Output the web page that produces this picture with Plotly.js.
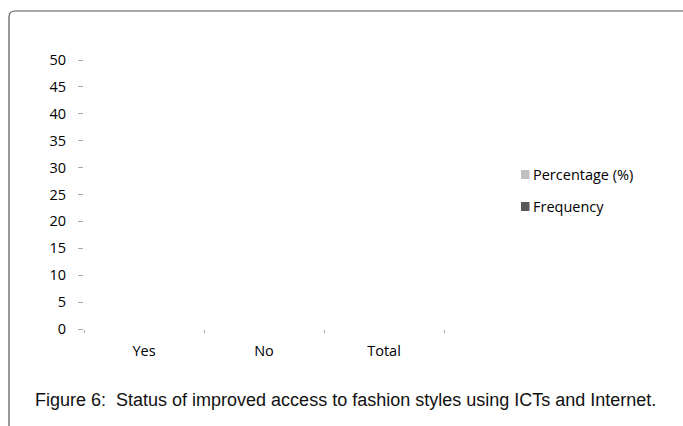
<!DOCTYPE html>
<html>
<head>
<meta charset="utf-8">
<script src="https://cdn.plot.ly/plotly-3.0.1.min.js"></script>
<style>html,body{margin:0;padding:0;background:#fff;}#chart{width:683px;height:426px;}</style>
</head>
<body>
<div id="chart"></div>
<script>
// Data (no bars are drawn in the picture)
const categories = ["Yes", "No", "Total"];
const frequency = [null, null, null];
const percentage = [null, null, null];
const seriesNames = ["Percentage (%)", "Frequency"];
const seriesColors = ["#bfbfbf", "#595959"];
const yTicks = [0, 5, 10, 15, 20, 25, 30, 35, 40, 45, 50];
const caption = "Figure 6:  Status of improved access to fashion styles using ICTs and Internet.";

// plot area geometry in px
const L = 84, R = 444, T = 60, B = 329;
const W = R - L, H = B - T;
const px = x => (x - L) / W;
const py = y => (B - y) / H;

const tickFont = {family: "Open Sans, sans-serif", size: 14.5, color: "#000"};

const traces = [
  {type: "bar", name: seriesNames[1], x: categories, y: frequency,
   marker: {color: seriesColors[1]}, showlegend: false},
  {type: "bar", name: seriesNames[0], x: categories, y: percentage,
   marker: {color: seriesColors[0]}, showlegend: false}
];

// legend drawn as swatches + labels
const legendShapes = [];
const legendAnns = [];
seriesNames.forEach((name, i) => {
  const cy = 174.5 + i * 32;
  legendShapes.push({type: "rect", xref: "paper", yref: "paper",
    x0: px(521), x1: px(529.5), y0: py(cy - 4.5), y1: py(cy + 4.5),
    fillcolor: seriesColors[i], line: {width: 0}});
  legendAnns.push({xref: "paper", yref: "paper", x: px(531), y: py(cy),
    xanchor: "left", yanchor: "middle", showarrow: false, text: name, font: tickFont});
});

const layout = {
  width: 683, height: 426,
  margin: {l: L, r: 683 - R, t: T, b: 426 - B, pad: 0},
  paper_bgcolor: "#fff", plot_bgcolor: "#fff",
  showlegend: false,
  barmode: "group",
  xaxis: {
    type: "category", range: [-0.5, 2.5],
    showgrid: false, zeroline: false, showline: false,
    ticks: "outside", tickson: "boundaries", ticklen: 3, tickwidth: 1, tickcolor: "#a6a6a6",
    ticklabelstandoff: 11, tickfont: tickFont, fixedrange: true
  },
  yaxis: {
    range: [0, 50], tickvals: yTicks, ticktext: yTicks.map(String),
    showgrid: false, zeroline: false, showline: false,
    ticks: "outside", ticklen: 5, tickwidth: 1, tickcolor: "#a6a6a6",
    ticklabelstandoff: 9, tickfont: tickFont, fixedrange: true
  },
  shapes: [
    {type: "path", xref: "paper", yref: "paper",
     path: `M ${px(700)} ${py(11)} L ${px(15)} ${py(11)} Q ${px(9)} ${py(11)} ${px(9)} ${py(17)} L ${px(9)} ${py(440)}`,
     line: {color: "#555555", width: 1.2}}
  ].concat(legendShapes),
  annotations: [
    {xref: "paper", yref: "paper", x: px(33), y: py(400), xanchor: "left", yanchor: "middle",
     text: caption, showarrow: false,
     font: {family: "Liberation Sans, Arial, sans-serif", size: 18, color: "#111"}}
  ].concat(legendAnns)
};

Plotly.newPlot("chart", traces, layout, {displayModeBar: false, staticPlot: true});
</script>
</body>
</html>
